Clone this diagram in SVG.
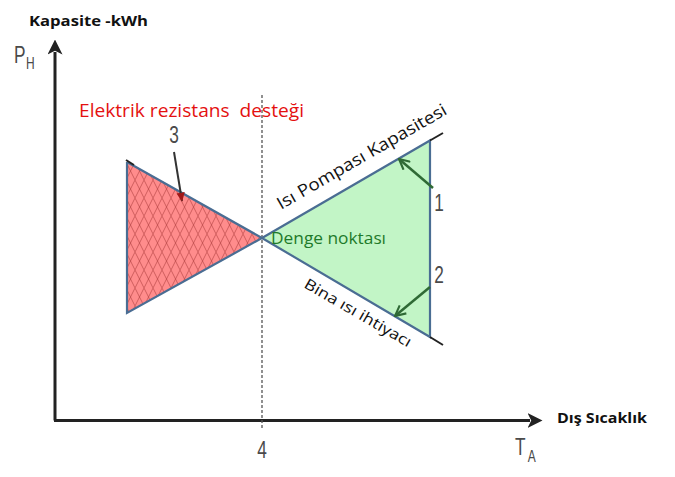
<svg xmlns="http://www.w3.org/2000/svg" width="675" height="477" viewBox="0 0 675 477">
<defs>
<style>
.axis{stroke:#222;stroke-width:3;fill:none}
.cal{font-family:"Open Sans","Liberation Sans",sans-serif}
.num{font-family:"Liberation Sans","DejaVu Sans",sans-serif;fill:#4a4a4a}
.edge{stroke:#4a6d93;stroke-width:2.2;fill:none}
.ext{stroke:#222;stroke-width:2;fill:none}
.garrow{stroke:#2f6a35;stroke-width:2.5;fill:none}
</style>
<marker id="axhead" viewBox="0 0 12 12" refX="2" refY="6" markerWidth="5" markerHeight="5" markerUnits="strokeWidth" orient="auto">
<path d="M0,0 L12,6 L0,12 L3,6 Z" fill="#222"/>
</marker>
<marker id="ghead" viewBox="0 0 12 12" refX="11" refY="6" markerWidth="5" markerHeight="5" markerUnits="strokeWidth" orient="auto">
<path d="M1,1 L11,6 L1,11" fill="none" stroke="#2f6a35" stroke-width="2"/>
</marker>
<marker id="rhead" viewBox="0 0 12 12" refX="10" refY="6" markerWidth="5" markerHeight="5" markerUnits="strokeWidth" orient="auto">
<path d="M0,1 L11,6 L0,11 Z" fill="#a01818"/>
</marker>
<pattern id="hatch" patternUnits="userSpaceOnUse" width="9" height="18">
<path d="M0,0 L9,18 M9,0 L0,18" stroke="#a83a3a" stroke-width="0.8" stroke-opacity="0.7"/>
</pattern>
</defs>
<rect width="675" height="477" fill="#fff"/>

<g id="axes">
<path class="axis" d="M55,420.5 L55,52" marker-end="url(#axhead)"/>
<path class="axis" d="M54,420.5 L530,420.5" marker-end="url(#axhead)"/>
<line x1="262" y1="95" x2="262" y2="430" stroke="#555" stroke-width="1.3" stroke-dasharray="3,2"/>
</g>

<g id="red-region">
<polygon points="127,162 262,238 127,313" fill="#ff8c8c"/>
<polygon points="127,162 262,238 127,313" fill="url(#hatch)"/>
<polyline class="edge" points="127,162 262,238 127,313 127,162"/>
<line class="ext" x1="126" y1="160" x2="134" y2="165"/>
</g>

<g id="green-region">
<polygon points="262,238 430,140.5 430,337" fill="#c2f5c6"/>
<polyline class="edge" points="262,238 430,140.5 430,337 262,238"/>
<line class="ext" x1="430" y1="140.5" x2="443" y2="133"/>
<line class="ext" x1="430" y1="337" x2="443" y2="345"/>
</g>

<g id="connectors">
<line x1="174" y1="152" x2="182" y2="201" stroke="#333" stroke-width="2" marker-end="url(#rhead)"/>
<line class="garrow" x1="433" y1="188" x2="399" y2="159" marker-end="url(#ghead)"/>
<line class="garrow" x1="430" y1="287" x2="395" y2="316" marker-end="url(#ghead)"/>
</g>

<g id="labels">
<text class="cal" x="29" y="26" font-size="15" font-weight="bold" fill="#111" textLength="119" lengthAdjust="spacingAndGlyphs">Kapasite -kWh</text>
<text class="cal" x="557" y="423" font-size="15" font-weight="bold" fill="#111" textLength="90" lengthAdjust="spacingAndGlyphs">Dış Sıcaklık</text>
<text class="cal" x="79" y="117" font-size="19" fill="#e41010" textLength="225" lengthAdjust="spacingAndGlyphs" xml:space="preserve">Elektrik rezistans  desteği</text>
<text class="cal" x="271" y="244" font-size="16" fill="#1e7a2a" textLength="115" lengthAdjust="spacingAndGlyphs">Denge noktası</text>
<text class="cal" font-size="17" fill="#111" transform="translate(281,210) rotate(-30)" textLength="193" lengthAdjust="spacingAndGlyphs">Isı Pompası Kapasitesi</text>
<text class="cal" font-size="15" fill="#111" transform="translate(303,287) rotate(30)" textLength="121" lengthAdjust="spacingAndGlyphs">Bina ısı ihtiyacı</text>

<g transform="translate(14,63) scale(0.75,1)"><text class="num" x="0" y="0" font-size="23">P</text><text class="num" x="16" y="6" font-size="16">H</text></g>
<g transform="translate(515,455) scale(0.75,1)"><text class="num" x="0" y="0" font-size="23">T</text><text class="num" x="17" y="7" font-size="16">A</text></g>
<text class="num" font-size="23" text-anchor="middle" transform="translate(262,458) scale(0.75,1)">4</text>
<text class="num" font-size="23" text-anchor="middle" transform="translate(174,143) scale(0.75,1)">3</text>
<text class="num" font-size="23" text-anchor="middle" transform="translate(439,211) scale(0.75,1)">1</text>
<text class="num" font-size="23" text-anchor="middle" transform="translate(439,283) scale(0.75,1)">2</text>
</g>
</svg>
